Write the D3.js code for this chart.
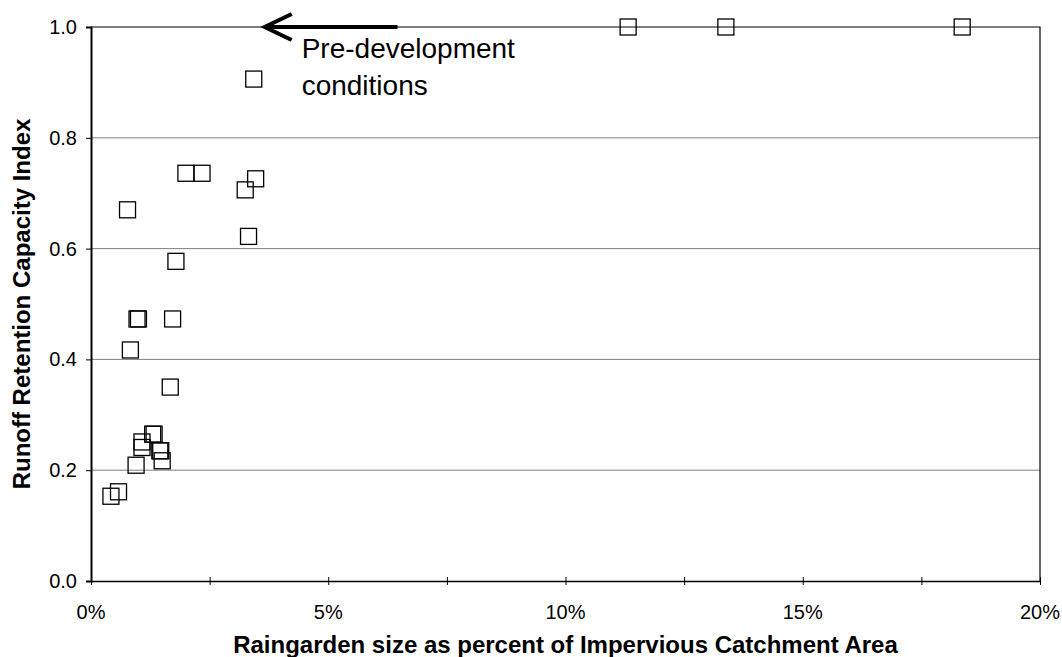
<!DOCTYPE html>
<html><head><meta charset="utf-8">
<script src="https://cdn.jsdelivr.net/npm/d3@7"></script>
<style>
body{margin:0;background:#fff;}
svg{display:block;font-family:"Liberation Sans",Arial,Helvetica,sans-serif;}
</style></head><body>
<svg id="c" width="1062" height="657"></svg>
<script>
// Raingarden size (% of impervious catchment area)
const sizePct = [11.32,13.38,18.36,3.43,2.00,2.34,3.47,3.25,0.77,3.32,1.79,0.97,1.00,1.72,0.83,1.67,1.30,1.33,1.075,1.075,1.45,1.47,1.50,0.95,0.58,0.42];
// Runoff retention capacity index
const retention = [1.0,1.0,1.0,0.906,0.736,0.736,0.726,0.706,0.670,0.622,0.577,0.473,0.473,0.473,0.417,0.350,0.265,0.265,0.251,0.241,0.235,0.235,0.217,0.209,0.161,0.153];
const xTickValues = [0,2.5,5,7.5,10,12.5,15,17.5,20];
const xTickLabels = ["0%","5%","10%","15%","20%"];
const yTickValues = [0,0.2,0.4,0.6,0.8,1.0];
const annotationLines = ["Pre-development","conditions"];

const svg = d3.select("#c");
const L=91, T=27, W=949, H=554;
const x = d3.scaleLinear().domain([0,20]).range([L,L+W]);
const y = d3.scaleLinear().domain([0,1]).range([T+H,T]);

// gridlines
svg.append("g").selectAll("line").data(yTickValues.filter(v=>v>0&&v<1)).join("line")
  .attr("x1",L).attr("x2",L+W).attr("y1",d=>y(d)).attr("y2",d=>y(d))
  .attr("stroke","#808080").attr("stroke-width",1);
// border top/right
svg.append("path").attr("d",`M${L},${y(1)}H${L+W}V${y(0)}`).attr("fill","none").attr("stroke","#000").attr("stroke-width",1.2);

// y axis
const yAxis = d3.axisLeft(y).tickValues(yTickValues).tickFormat(d3.format(".1f")).tickSize(5).tickPadding(9);
const gy = svg.append("g").attr("transform",`translate(${L},0)`).call(yAxis);
gy.select(".domain").attr("stroke-width",2);
gy.selectAll("text").attr("font-size",20).attr("font-family","Liberation Sans, Arial, sans-serif").attr("fill","#000");

// x axis
const xAxis = d3.axisBottom(x).tickValues(xTickValues).tickSize(4).tickFormat(()=>"").tickSizeOuter(0);
const gx = svg.append("g").attr("transform",`translate(0,${y(0)})`).call(xAxis);
gx.select(".domain").attr("stroke-width",1.5);
gx.selectAll(".tick line").attr("y1",-4).attr("y2",4);
svg.append("g").selectAll("text").data(xTickLabels).join("text")
  .attr("x",(d,i)=>x(i*5)).attr("y",y(0)+38).attr("text-anchor","middle")
  .attr("font-size",20).text(d=>d);

// titles
svg.append("text").attr("x",x(10)).attr("y",653).attr("text-anchor","middle")
  .attr("font-size",24).attr("font-weight","bold").text("Raingarden size as percent of Impervious Catchment Area");
svg.append("text").attr("transform",`translate(30,${y(0.5)}) rotate(-90)`).attr("text-anchor","middle")
  .attr("font-size",24).attr("font-weight","bold").text("Runoff Retention Capacity Index");

// points
svg.append("g").selectAll("rect").data(sizePct.map((v,i)=>[v,retention[i]])).join("rect")
  .attr("x",d=>x(d[0])-8).attr("y",d=>y(d[1])-8).attr("width",16).attr("height",16)
  .attr("fill","none").attr("stroke","#000").attr("stroke-width",1.3);

// annotation arrow
const ay = y(1);
svg.append("line").attr("x1",x(6.46)).attr("x2",x(3.66)).attr("y1",ay).attr("y2",ay)
  .attr("stroke","#000").attr("stroke-width",4);
svg.append("path").attr("d",`M${x(3.66)+27},${ay-13}L${x(3.66)},${ay}L${x(3.66)+27},${ay+13}`)
  .attr("fill","none").attr("stroke","#000").attr("stroke-width",4).attr("stroke-linejoin","miter");
svg.append("g").selectAll("text").data(annotationLines).join("text")
  .attr("x",x(3.66)+37).attr("y",(d,i)=>58+i*37).attr("font-size",28).text(d=>d);
</script></body></html>
